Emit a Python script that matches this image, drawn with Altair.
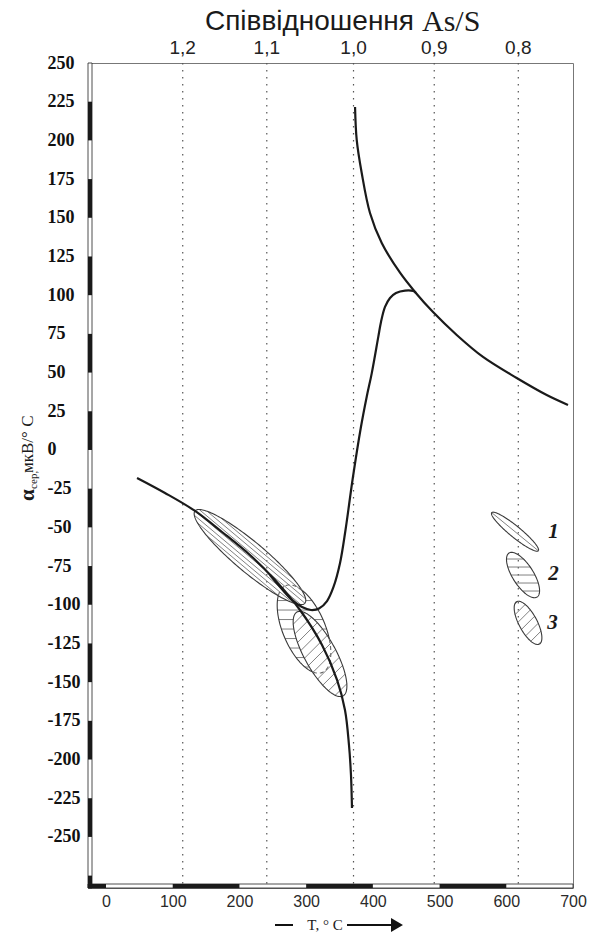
import altair as alt
import numpy as np
import pandas as pd

# ---------------- data ----------------
y_ticks = list(range(-250, 251, 25))
x_ticks = [0, 100, 200, 300, 400, 500, 600, 700]

ratio_labels = ["1,2", "1,1", "1,0", "0,9", "0,8"]
ratio_T = [115, 241, 371, 492, 618]

# upper-right decreasing branch
curveA_T = [373.3, 375.8, 383.3, 395.7, 413.3, 440.7, 463.2, 490.2, 525.7, 565.1, 615.6, 660.6, 692.5]
curveA_a = [221.6, 200.3, 178.9, 153.1, 133.7, 114.5, 102.1, 89.1, 74.3, 60.1, 46.5, 35.5, 29.1]

# U-shaped branch rising to the maximum
curveB_T = [245.8, 262.3, 278.8, 293.8, 307.3, 319.3, 331.3, 341.0, 350.8, 359.0, 369.5,
            381.8, 390.8, 398.3, 408.2, 412.2, 418.2, 425.7, 434.7, 448.2, 460.6, 464.7]
curveB_a = [-80.8, -89.2, -96.9, -101.5, -103.4, -102.4, -97.6, -88.5, -73.0, -51.7, -19.4,
            14.0, 34.4, 49.5, 73.2, 82.7, 92.4, 98.2, 101.4, 103.0, 102.7, 101.4]

# main decreasing branch
curveC_T = [46.5, 88.4, 133.4, 173.9, 215.8, 253.3, 290.8, 323.8, 346.3, 358.2, 364.2, 367.2, 368.7]
curveC_a = [-18.1, -27.8, -39.4, -53.0, -67.9, -84.0, -103.4, -126.0, -148.6, -168.0, -190.6, -210.0, -231.3]

# fields (ellipses): centre, end of major axis, minor/major ratio
ell_names = ["E1", "E2", "E3", "L1", "L2", "L3"]
ell_cT = [215.8, 296.8, 320.8, 613.1, 625.1, 632.6]
ell_cA = [-69.2, -115.7, -131.8, -52.8, -80.8, -111.7]
ell_tipT = [133.4, 269.2, 286.3, 578.2, 604.1, 615.6]
ell_tipA = [-39.4, -87.7, -104.7, -40.5, -66.6, -98.0]
ell_ratio = [0.21, 0.45, 0.33, 0.185, 0.40, 0.375]

legend_labels = ["1", "2", "3"]
legend_T = [670.8, 670.8, 669.3]
legend_A = [-53.0, -80.1, -112.1]

# alternating axis bar segments (black parts)
ybar_top = [225, 175, 125, 75, 25, -25, -75, -125, -175, -225, -275]
ybar_bot = [200, 150, 100, 50, 0, -50, -100, -150, -200, -250, -283]
xbar_from = [-27, 100, 300, 500]
xbar_to = [0, 200, 400, 600]

# ---------------- layout / style ----------------
W, H = 485, 825
XDOM = [-27, 700]
YDOM = [-283, 250]
SX = W / (XDOM[1] - XDOM[0])
SY = H / (YDOM[1] - YDOM[0])

hatch_style = {"E1": ("major", 7), "E2": ("horizontal", 9.5), "E3": ("diagonal", 8.0),
               "L1": ("major", 1), "L2": ("horizontal", 8.0), "L3": ("diagonal", 7.5)}
above = {"E2": ["E1", "E3"], "E1": ["E3"]}


def to_px(T, A):
    return np.array([(T - XDOM[0]) * SX, (YDOM[1] - A) * SY])


def from_px(P):
    return P[0] / SX + XDOM[0], YDOM[1] - P[1] / SY


ells = {}
for i, nm in enumerate(ell_names):
    c = to_px(ell_cT[i], ell_cA[i])
    t = to_px(ell_tipT[i], ell_tipA[i])
    a = float(np.linalg.norm(t - c))
    u = (t - c) / a
    v = np.array([-u[1], u[0]])
    ells[nm] = dict(c=c, u=u, v=v, a=a, b=ell_ratio[i] * a)


def local(P, e):
    d = P - e["c"]
    return d @ e["u"] / e["a"], d @ e["v"] / e["b"]


def inside(P, e):
    p, q = local(P, e)
    return p * p + q * q < 1


def interval(P0, D, e):
    p0, q0 = local(P0, e)
    pd_ = D @ e["u"] / e["a"]
    qd_ = D @ e["v"] / e["b"]
    A_ = pd_ * pd_ + qd_ * qd_
    B_ = 2 * (p0 * pd_ + q0 * qd_)
    C_ = p0 * p0 + q0 * q0 - 1
    disc = B_ * B_ - 4 * A_ * C_
    if disc <= 0:
        return None
    r = np.sqrt(disc)
    return (-B_ - r) / (2 * A_), (-B_ + r) / (2 * A_)


rows = []
seg_id = [0]


def add_seg(pts, kind):
    seg_id[0] += 1
    for k, P in enumerate(pts):
        T, A = from_px(P)
        rows.append(dict(T=T, A=A, seg=seg_id[0], ord=k, kind=kind))


for nm in ell_names:
    e = ells[nm]
    ups = [ells[o] for o in above.get(nm, [])]
    # outline
    phi = np.linspace(0, 2 * np.pi, 181)
    pts = [e["c"] + e["a"] * np.cos(f) * e["u"] + e["b"] * np.sin(f) * e["v"] for f in phi]
    flags = [any(inside(P, o) for o in ups) for P in pts]
    run = [pts[0]]
    cur = flags[0]
    for P, fl in zip(pts[1:], flags[1:]):
        run.append(P)
        if fl != cur:
            add_seg(run, "dashed" if cur else "outline")
            run = [P]
            cur = fl
    add_seg(run, "dashed" if cur else "outline")
    # hatching
    kind, par = hatch_style[nm]
    if kind == "major":
        d = e["u"]
        n = par
        offs = [(k - (n - 1) / 2) * (2 * e["b"] / (n + 1)) for k in range(n)]
    else:
        d = np.array([1.0, 0.0]) if kind == "horizontal" else np.array([1.0, -1.0]) / np.sqrt(2)
        offs = [k * par for k in range(-30, 31)]
    nrm = np.array([-d[1], d[0]])
    for o in offs:
        P0 = e["c"] + o * nrm
        iv = interval(P0, d, e)
        if iv is None:
            continue
        s1, s2 = iv
        if s2 - s1 < 2:
            continue
        parts = [(s1, s2)]
        for f in ups:
            jv = interval(P0, d, f)
            if jv is None:
                continue
            lo, hi = jv
            newp = []
            for (x1, x2) in parts:
                if hi <= x1 or lo >= x2:
                    newp.append((x1, x2))
                else:
                    if lo > x1:
                        newp.append((x1, lo))
                    if hi < x2:
                        newp.append((hi, x2))
            parts = newp
        for (x1, x2) in parts:
            if x2 - x1 > 1:
                add_seg([P0 + x1 * d, P0 + x2 * d], "hatch")

ell_df = pd.DataFrame(rows)

curve_rows = []
for name, Ts, As in [("A", curveA_T, curveA_a), ("B", curveB_T, curveB_a), ("C", curveC_T, curveC_a)]:
    for k, (t, a) in enumerate(zip(Ts, As)):
        curve_rows.append(dict(T=t, A=a, curve=name, ord=k))
curves_df = pd.DataFrame(curve_rows)

ratio_df = pd.DataFrame({"T": ratio_T, "label": ratio_labels})
legend_df = pd.DataFrame({"T": legend_T, "A": legend_A, "label": legend_labels})
ybar_df = pd.DataFrame({"top": ybar_top, "bot": ybar_bot})
xbar_df = pd.DataFrame({"x1": xbar_from, "x2": xbar_to})
one = pd.DataFrame({"k": [0]})


def X(field, **kw):
    return alt.X(field, type="quantitative",
                 scale=alt.Scale(domain=XDOM, nice=False, zero=False),
                 axis=alt.Axis(values=x_ticks, title=None, grid=False, domain=False, ticks=False,
                               labelFont="Liberation Sans", labelFontSize=16, labelColor="#2a2a2a",
                               labelPadding=5, labelFlush=False), **kw)


def Y(field, **kw):
    return alt.Y(field, type="quantitative",
                 scale=alt.Scale(domain=YDOM, nice=False, zero=False),
                 axis=alt.Axis(values=y_ticks, title=None, grid=False, domain=False, ticks=False,
                               labelFont="Liberation Serif", labelFontWeight="bold", labelFontSize=18,
                               labelColor="#111", labelAlign="left", labelBaseline="middle",
                               labelPadding=41, labelExpr="datum.value + ''"), **kw)


grid = alt.Chart(ratio_df).mark_rule(strokeDash=[1.5, 5.5], color="#555", strokeWidth=1.2).encode(x=X("T"))

hatch = alt.Chart(ell_df).transform_filter("datum.kind == 'hatch'").mark_line(
    color="#737373", strokeWidth=0.9).encode(x=X("T"), y=Y("A"), detail="seg:N", order="ord:Q")
outline = alt.Chart(ell_df).transform_filter("datum.kind == 'outline'").mark_line(
    color="#3a3a3a", strokeWidth=1.1).encode(x=X("T"), y=Y("A"), detail="seg:N", order="ord:Q")
dashed = alt.Chart(ell_df).transform_filter("datum.kind == 'dashed'").mark_line(
    color="#666", strokeWidth=1.1, strokeDash=[4, 3]).encode(x=X("T"), y=Y("A"), detail="seg:N", order="ord:Q")

curves = alt.Chart(curves_df).mark_line(color="#1a1a1a", strokeWidth=2.2, interpolate="catmull-rom").encode(
    x=X("T"), y=Y("A"), detail="curve:N", order="ord:Q")

ystrip_bg = alt.Chart(one).mark_rect(fill="white", stroke="#222", strokeWidth=0.8).encode(
    x=alt.value(0), x2=alt.value(4), y=alt.value(0), y2=alt.value(H))
ystrip = alt.Chart(ybar_df).mark_rect(color="#1a1a1a").encode(
    x=alt.value(0), x2=alt.value(4), y=Y("top"), y2="bot:Q")
xstrip_bg = alt.Chart(one).mark_rect(fill="white", stroke="#222", strokeWidth=0.8).encode(
    x=alt.value(0), x2=alt.value(W), y=alt.value(H - 4), y2=alt.value(H))
xstrip = alt.Chart(xbar_df).mark_rect(color="#1a1a1a").encode(
    x=X("x1"), x2="x2:Q", y=alt.value(H - 4), y2=alt.value(H))

ratio_text = alt.Chart(ratio_df).mark_text(font="Liberation Sans", fontSize=19, color="#222",
                                           baseline="middle").encode(x=X("T"), y=alt.value(-15), text="label:N")

title1 = alt.Chart(one).mark_text(text="Співвідношення", font="Liberation Sans", fontSize=28,
                                  color="#1a1a1a", align="right", baseline="middle").encode(
    x=alt.value(326), y=alt.value(-41))
title2 = alt.Chart(one).mark_text(text="As/S", font="Liberation Serif", fontSize=30,
                                  color="#1a1a1a", align="left", baseline="middle").encode(
    x=alt.value(334), y=alt.value(-41))

legend_text = alt.Chart(legend_df).mark_text(font="Liberation Serif", fontSize=21, fontWeight="bold",
                                             fontStyle="italic", color="#1a1a1a", baseline="middle").encode(
    x=X("T"), y=Y("A"), text="label:N")

ytitle_a = alt.Chart(one).mark_text(text="α", font="Liberation Serif", fontSize=21, fontWeight="bold",
                                    angle=270, align="left", baseline="alphabetic", color="#1a1a1a").encode(
    x=alt.value(-54), y=alt.value(438))
ytitle_s = alt.Chart(one).mark_text(text="сер,", font="Liberation Serif", fontSize=11,
                                    angle=270, align="left", baseline="alphabetic", color="#1a1a1a").encode(
    x=alt.value(-51), y=alt.value(426))
ytitle_u = alt.Chart(one).mark_text(text="мкВ/° С", font="Liberation Serif", fontSize=17,
                                    angle=270, align="left", baseline="alphabetic", color="#1a1a1a").encode(
    x=alt.value(-55), y=alt.value(410))

xt_line1 = alt.Chart(one).mark_rule(color="#111", strokeWidth=2).encode(
    x=alt.value(187), x2=alt.value(205), y=alt.value(862))
xt_text = alt.Chart(one).mark_text(text="T, ° C", font="Liberation Serif", fontSize=15, color="#1a1a1a",
                                   baseline="middle").encode(x=alt.value(237), y=alt.value(862))
xt_line2 = alt.Chart(one).mark_rule(color="#111", strokeWidth=2).encode(
    x=alt.value(259), x2=alt.value(305), y=alt.value(862))
xt_head = alt.Chart(one).mark_point(shape="triangle-right", filled=True, color="#111", size=190,
                                    opacity=1).encode(x=alt.value(309), y=alt.value(862))

chart = alt.layer(
    grid, hatch, outline, dashed, curves,
    ystrip_bg, ystrip, xstrip_bg, xstrip,
    ratio_text, title1, title2, legend_text,
    ytitle_a, ytitle_s, ytitle_u,
    xt_line1, xt_text, xt_line2, xt_head,
).properties(
    width=W, height=H,
    autosize="none",
    padding={"left": 88, "top": 63, "right": 17, "bottom": 48},
    background="white",
).configure_view(stroke="#777", strokeWidth=1)

chart.save("out.html", embed_options={"renderer": "svg", "actions": False})
